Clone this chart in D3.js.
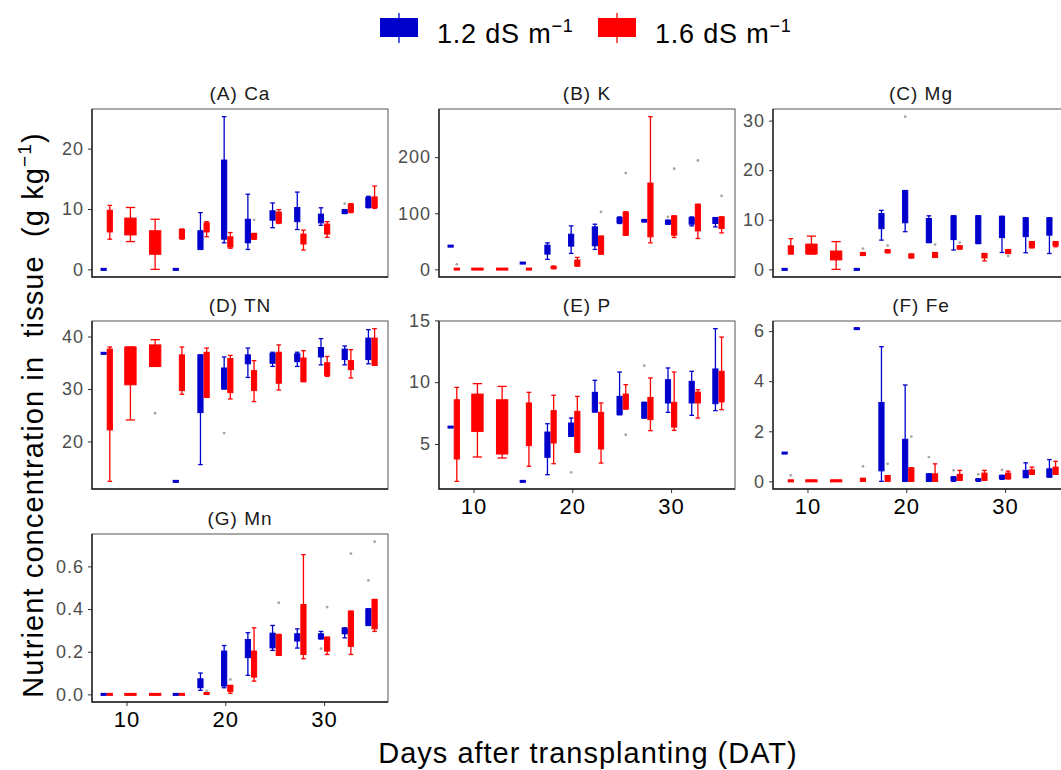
<!DOCTYPE html>
<html>
<head>
<meta charset="utf-8">
<script src="https://cdn.jsdelivr.net/npm/d3@7"></script>
<style>
  body { margin: 0; background: #fff; }
  svg { font-family: "Liberation Sans", Arial, sans-serif; }
</style>
</head>
<body>
<div id="chart"></div>
<script>
// sampling days (DAT) and treatments
const days = [8, 10.4, 12.9, 15.3, 17.8, 20.2, 22.6, 25.1, 27.6, 30, 32.4, 34.8];
const treatments = ['1.2 dS m', '1.6 dS m'];
const dayTicks = [10, 20, 30];

// box stats per day: [lower whisker, Q1, Q3, upper whisker], null = no box
const caBlue = [[0,0,0,0], null, null, [0,0,0,0],
  [3.3,3.3,6.4,9.4], [4.4,5.0,18.1,25.3], [3.3,4.4,8.3,12.45], [6.9,8.15,9.7,11.0],
  [6.6,7.9,10.25,12.8], [7.3,7.7,9.15,10.2], [9.25,9.25,9.9,9.9], [10.2,10.25,11.9,12.1]];
const caRed = [[5.0,6.2,9.8,10.6], [4.6,5.7,8.5,10.25], [0,2.5,6.4,8.3], [5.0,5.1,6.6,6.7],
  [5.4,6.2,7.7,7.9], [3.5,3.7,5.4,6.1], [5.0,5.0,5.95,5.95], [7.6,7.7,9.5,9.9],
  [3.2,4.2,5.85,6.5], [5.3,5.85,7.5,7.9], [9.4,9.5,10.8,10.9], [10.1,10.25,12.0,13.8]];
const caOut = [[22.6,1,8.2], [32.4,0,10.9]];
const caTicks = [0, 10, 20];

const kBlue = [[41.4,41.4,41.4,41.4], null, null, [11.2,11.2,11.2,11.2],
  [17.8,27.2,43.2,47.3], [28.4,41.4,62.7,77.5], [35.5,42,75.7,80.5], [81.7,82.8,92.3,93.5],
  [84.6,84.6,88.8,88.8], [80.5,80.5,87.6,87.6], [77.5,80.5,92.3,93.5], [75.7,81.7,92.3,92.3]];
const kRed = [[0,0,1,1], [0,0,1,1], [0,0,1,1], [0,0,1,1],
  [1,1.5,5,6], [5.9,5.9,16.6,21.3], [27.2,27.2,59.2,59.2], [60.9,60.9,102.4,102.4],
  [47.3,58,153.8,272.2], [56.8,60.9,95.3,95.3], [55,68.6,116,116], [65,72.8,93.5,93.5]];
const kOut = [[8,1,8.9], [22.6,1,102.4], [25.1,1,171.6], [30,0,93.5], [30,1,179.3], [32.4,1,194], [34.8,1,130.8]];
const kTicks = [0, 100, 200];

const mgBlue = [[0,0,0,0], null, null, [0,0,0,0],
  [5.9,8.2,11.25,11.9], [7.6,9.4,15.9,15.9], [5.4,5.4,10.25,10.8], [3.9,6.0,10.8,10.8],
  [5.2,5.2,10.8,10.8], [3.4,6.4,10.7,10.7], [3.35,6.6,10.4,10.4], [3.2,6.9,10.4,10.4]];
const mgRed = [[3.1,3.1,4.75,6.2], [3.1,3.1,5.1,6.7], [0,1.9,3.7,5.6], [2.8,2.8,3.4,3.4],
  [3.35,3.35,3.95,3.95], [2.3,2.3,3.1,3.1], [2.4,2.4,3.4,3.4], [4.1,4.1,4.75,4.75],
  [1.7,2.3,3.2,3.2], [3.2,3.2,4.0,4.0], [4.35,4.35,5.6,5.6], [4.55,4.75,5.6,5.6]];
const mgOut = [[15.3,1,4.2], [17.8,1,4.8], [20.2,0,30.8], [22.6,1,5.0], [25.1,1,5.4], [30,1,2.7]];
const mgTicks = [0, 10, 20, 30];

const tnBlue = [[36.8,36.8,36.8,36.8], null, null, [12.4,12.4,12.4,12.4],
  [15.6,25.5,36.5,36.5], [30.0,30.0,34.0,36.1], [32.2,34.8,36.5,37.8], [34.3,34.9,36.8,37.0],
  [34.3,35.2,36.7,37.0], [34.6,36.1,37.9,39.6], [34.6,35.6,37.6,38.2], [34.8,35.6,39.7,41.3]];
const tnRed = [[12.4,22.2,37.6,38.0], [24.1,30.8,38.0,38.0], [34.3,34.3,38.4,39.4], [29.0,29.7,36.5,38.0],
  [28.4,28.4,37.0,37.8], [28.1,29.3,35.8,36.4], [27.6,29.7,33.5,35.4], [29.8,31.1,37.0,38.4],
  [31.4,31.4,35.9,37.3], [32.4,32.6,35.0,36.2], [32.1,33.7,35.4,37.5], [34.5,34.5,39.7,41.5]];
const tnOut = [[12.9,1,25.4], [20.2,0,21.6]];
const tnTicks = [20, 30, 40];

const pBlue = [[6.37,6.37,6.37,6.37], null, null, [1.98,1.98,1.98,1.98],
  [2.52,3.92,5.97,6.64], [5.62,5.62,6.7,7.1], [7.59,7.59,9.18,10.15], [7.37,7.37,8.85,10.82],
  [7.1,7.1,8.37,8.37], [7.56,8.32,10.2,11.15], [7.32,8.32,10.07,10.88], [7.7,8.26,11.07,14.33]];
const pRed = [[1.98,3.79,8.58,9.58], [3.95,6.02,9.04,9.88], [3.87,4.19,8.58,9.66], [3.2,4.87,8.32,9.18],
  [3.41,5.08,7.7,8.94], [4.33,4.33,7.64,8.85], [3.46,4.6,7.56,8.32], [7.83,7.83,9.04,9.8],
  [6.08,6.97,8.77,10.34], [6.1,6.37,8.37,10.82], [7.1,8.32,9.2,9.39], [7.78,8.4,10.88,13.65]];
const pOut = [[20.2,0,2.71], [25.1,1,5.75], [27.6,0,11.33]];
const pTicks = [5, 10, 15];

const feBlue = [[1.13,1.13,1.13,1.13], null, null, [6.1,6.1,6.1,6.1],
  [0,0.42,3.15,5.38], [0,0,1.68,3.85], [0,0,0.3,0.3], [0,0.02,0.18,0.18],
  [0,0.02,0.1,0.1], [0.08,0.1,0.24,0.24], [0.15,0.15,0.44,0.74], [0.17,0.17,0.5,0.87]];
const feRed = [[0,0,0.04,0.04], [0,0,0.04,0.04], [0,0,0.04,0.04], [0,0,0.12,0.12],
  [0,0,0.23,0.23], [0,0,0.54,0.54], [0,0,0.3,0.7], [0.04,0.04,0.28,0.44],
  [0.04,0.04,0.33,0.44], [0.1,0.1,0.33,0.41], [0.28,0.28,0.46,0.57], [0.28,0.28,0.57,0.8]];
const feOut = [[8,1,0.24], [15.3,1,0.6], [17.8,1,0.7], [20.2,1,1.79], [22.6,0,0.97], [25.1,0,0.44], [27.6,0,0.28], [30,0,0.46]];
const feTicks = [0, 2, 4, 6];

const mnBlue = [[0,0,0,0], null, null, [0,0,0,0],
  [0.019,0.031,0.073,0.1], [0.031,0.039,0.203,0.229], [0.089,0.172,0.257,0.289], [0.206,0.218,0.287,0.323],
  [0.217,0.25,0.284,0.307], [0.26,0.26,0.284,0.295], [0.265,0.284,0.31,0.312], [0.323,0.323,0.401,0.401]];
const mnRed = [[0,0,0,0], [0,0,0,0], [0,0,0,0], [0,0,0,0],
  [0,0,0.008,0.008], [0.005,0.014,0.042,0.042], [0.062,0.081,0.203,0.312], [0.183,0.183,0.281,0.281],
  [0.167,0.187,0.421,0.655], [0.187,0.203,0.268,0.268], [0.187,0.225,0.39,0.39], [0.295,0.307,0.445,0.445]];
const mnOut = [[17.8,1,0.016], [20.2,1,0.07], [25.1,1,0.43], [30,0,0.214], [30,1,0.409], [32.4,1,0.66], [34.8,0,0.534], [34.8,1,0.716]];
const mnTicks = [0, 0.2, 0.4, 0.6];

const colors = ['#0000cd', '#ff0000'];

const panels = [
  { title: '(A) Ca', series: [caBlue, caRed], out: caOut, ticks: caTicks, col: 0, row: 0, xAxis: false, fmt: d3.format('d') },
  { title: '(B) K',  series: [kBlue, kRed],   out: kOut,  ticks: kTicks,  col: 1, row: 0, xAxis: false, fmt: d3.format('d') },
  { title: '(C) Mg', series: [mgBlue, mgRed], out: mgOut, ticks: mgTicks, col: 2, row: 0, xAxis: false, fmt: d3.format('d') },
  { title: '(D) TN', series: [tnBlue, tnRed], out: tnOut, ticks: tnTicks, col: 0, row: 1, xAxis: false, fmt: d3.format('d') },
  { title: '(E) P',  series: [pBlue, pRed],   out: pOut,  ticks: pTicks,  col: 1, row: 1, xAxis: true,  fmt: d3.format('d') },
  { title: '(F) Fe', series: [feBlue, feRed], out: feOut, ticks: feTicks, col: 2, row: 1, xAxis: true,  fmt: d3.format('d') },
  { title: '(G) Mn', series: [mnBlue, mnRed], out: mnOut, ticks: mnTicks, col: 0, row: 2, xAxis: true,  fmt: d3.format('.1f') }
];

const W = 1061, H = 770;
const colLeft = [92, 439, 773];
const rowTop = [109, 321, 534];
const panelW = 296, panelH = 168;
const groupW = 1.25; // days

const svg = d3.select('#chart').append('svg')
  .attr('width', W)
  .attr('height', H);

const x = d3.scaleLinear().domain([6.51, 36.47]).range([0, panelW]);

// where a box sits: dodged if both treatments exist that day
const slot = (p, i, s) => {
  const d = days[i];
  const both = p.series[0][i] && p.series[1][i];
  if (!both) return [d - groupW / 2, d + groupW / 2];
  return s === 0 ? [d - groupW / 2, d] : [d, d + groupW / 2];
};

panels.forEach(p => {
  const g = svg.append('g')
    .attr('transform', 'translate(' + colLeft[p.col] + ',' + rowTop[p.row] + ')');

  const vals = p.series.flatMap(s => s.filter(Boolean).flat()).concat(p.out.map(o => o[2]));
  const [mn, mx] = d3.extent(vals);
  const pad = (mx - mn) * 0.05;
  const y = d3.scaleLinear().domain([mn - pad, mx + pad]).range([panelH, 0]);

  // title
  g.append('text')
    .attr('x', panelW / 2)
    .attr('y', -9)
    .attr('text-anchor', 'middle')
    .attr('fill', '#1a1a1a')
    .style('font-size', '19px')
    .style('letter-spacing', '1px')
    .text(p.title);

  // y axis
  const ya = g.append('g')
    .call(d3.axisLeft(y).tickValues(p.ticks).tickSize(4).tickPadding(4).tickFormat(p.fmt));
  ya.select('.domain').remove();
  ya.selectAll('line').attr('stroke', '#333');
  ya.selectAll('text').attr('fill', '#4d4d4d').style('font-size', '18px').style('letter-spacing', '1px');

  // x axis on bottom panels
  if (p.xAxis) {
    const xa = g.append('g')
      .attr('transform', 'translate(0,' + panelH + ')')
      .call(d3.axisBottom(x).tickValues(dayTicks).tickSize(4).tickPadding(5));
    xa.select('.domain').remove();
    xa.selectAll('line').attr('stroke', '#333');
    xa.selectAll('text').attr('fill', '#000').style('font-size', '22px').style('letter-spacing', '1px');
  }

  // boxes
  p.series.forEach((ser, s) => {
    const color = colors[s];
    ser.forEach((b, i) => {
      if (!b) return;
      const [a0, a1] = slot(p, i, s);
      const x0 = x(a0), x1 = x(a1);
      const cx = (x0 + x1) / 2;
      const bw = x1 - x0;
      const capW = bw * 0.75;
      const [lo, q1, q3, hi] = b;
      const bg = g.append('g');
      // whiskers
      bg.append('line')
        .attr('x1', cx).attr('x2', cx)
        .attr('y1', y(lo)).attr('y2', y(hi))
        .attr('stroke', color).attr('stroke-width', 1.3);
      [lo, hi].forEach(v => {
        bg.append('line')
          .attr('x1', cx - capW / 2).attr('x2', cx + capW / 2)
          .attr('y1', y(v)).attr('y2', y(v))
          .attr('stroke', color).attr('stroke-width', 1.3);
      });
      // box
      const top = y(q3), bot = y(q1);
      const h = Math.max(bot - top, 2);
      bg.append('rect')
        .attr('x', x0 + 0.5)
        .attr('y', (top + bot) / 2 - h / 2)
        .attr('width', bw - 1)
        .attr('height', h)
        .attr('fill', color)
        .attr('stroke', color)
        .attr('stroke-width', 1);
    });
  });

  // outliers
  p.out.forEach(o => {
    const i = days.indexOf(o[0]);
    const [a0, a1] = slot(p, i, o[1]);
    g.append('circle')
      .attr('cx', (x(a0) + x(a1)) / 2)
      .attr('cy', y(o[2]))
      .attr('r', 1.4)
      .attr('fill', '#a6a6a6');
  });

  // panel border, darker left / bottom axis lines
  g.append('rect')
    .attr('width', panelW).attr('height', panelH)
    .attr('fill', 'none').attr('stroke', '#555').attr('stroke-width', 1);
  g.append('path')
    .attr('d', 'M0,0V' + panelH + 'H' + panelW)
    .attr('fill', 'none').attr('stroke', '#222').attr('stroke-width', 1.4);
});

// axis titles
svg.append('text')
  .attr('x', 588)
  .attr('y', 763)
  .attr('text-anchor', 'middle')
  .attr('fill', '#000')
  .style('font-size', '29px')
  .style('letter-spacing', '1px')
  .text('Days after transplanting (DAT)');

const yt = svg.append('text')
  .attr('transform', 'translate(43,415) rotate(-90)')
  .attr('text-anchor', 'middle')
  .attr('fill', '#000')
  .style('font-size', '29px')
  .style('letter-spacing', '1.1px')
  .style('white-space', 'pre');
yt.append('tspan').text('Nutrient concentration in  tissue  (g kg');
yt.append('tspan').attr('dy', -12).style('font-size', '19px').text('\u22121');
yt.append('tspan').attr('dy', 12).text(')');

// legend
const legendX = [380, 598];
treatments.forEach((t, k) => {
  const lg = svg.append('g').attr('transform', 'translate(' + legendX[k] + ',0)');
  lg.append('line')
    .attr('x1', 19).attr('x2', 19).attr('y1', 13).attr('y2', 43)
    .attr('stroke', colors[k]).attr('stroke-width', 1.3);
  lg.append('rect')
    .attr('x', 0).attr('y', 18).attr('width', 38).attr('height', 19)
    .attr('fill', colors[k]);
  const tx = lg.append('text')
    .attr('x', 57).attr('y', 43)
    .attr('fill', '#000')
    .style('font-size', '27px')
    .style('letter-spacing', '0.8px');
  tx.append('tspan').text(t);
  tx.append('tspan').attr('dy', -11).style('font-size', '18px').text('\u22121');
});
</script>
</body>
</html>
